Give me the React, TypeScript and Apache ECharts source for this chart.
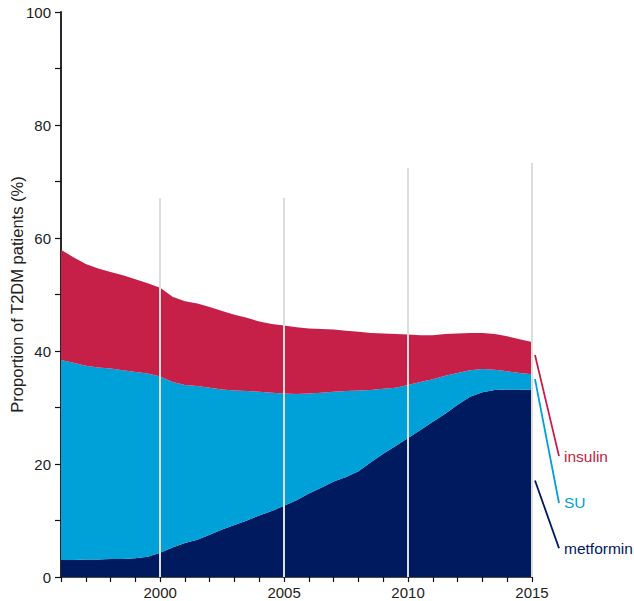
import React, { useEffect, useRef } from "react";
import * as echarts from "echarts";

// Half-yearly sampling points
const years = [
  1996.0, 1996.5, 1997.0, 1997.5, 1998.0, 1998.5, 1999.0, 1999.5, 2000.0, 2000.5,
  2001.0, 2001.5, 2002.0, 2002.5, 2003.0, 2003.5, 2004.0, 2004.5, 2005.0, 2005.5,
  2006.0, 2006.5, 2007.0, 2007.5, 2008.0, 2008.5, 2009.0, 2009.5, 2010.0, 2010.5,
  2011.0, 2011.5, 2012.0, 2012.5, 2013.0, 2013.5, 2014.0, 2014.5, 2015.0,
];

// Share of T2DM patients (%) per treatment, stacked bottom to top
const metformin = [
  3.0, 3.0, 3.1, 3.1, 3.2, 3.2, 3.3, 3.6, 4.3, 5.2,
  6.0, 6.6, 7.5, 8.4, 9.2, 10.0, 10.9, 11.7, 12.6, 13.6,
  14.8, 15.8, 16.9, 17.7, 18.7, 20.3, 21.8, 23.2, 24.6, 26.0,
  27.5, 28.9, 30.5, 31.9, 32.7, 33.1, 33.2, 33.2, 33.1,
];
const su = [
  35.4, 34.9, 34.3, 34.0, 33.7, 33.4, 33.0, 32.4, 31.2, 29.3,
  28.0, 27.2, 26.0, 24.8, 23.8, 22.9, 21.9, 20.9, 19.9, 18.8,
  17.7, 16.8, 15.9, 15.2, 14.3, 12.8, 11.5, 10.3, 9.4, 8.5,
  7.5, 6.7, 5.6, 4.7, 4.1, 3.6, 3.2, 2.9, 2.8,
];
const insulin = [
  19.5, 18.7, 18.0, 17.5, 17.1, 16.8, 16.4, 16.0, 15.7, 15.1,
  14.8, 14.6, 14.3, 13.9, 13.4, 13.0, 12.4, 12.2, 12.0, 11.8,
  11.5, 11.3, 11.0, 10.7, 10.4, 10.1, 9.8, 9.5, 8.9, 8.3,
  7.8, 7.4, 7.0, 6.6, 6.4, 6.3, 6.2, 6.0, 5.7,
];

// Vertical reference bars (year, height in %)
const refYears = [2000, 2005, 2010, 2015];
const refHeights = [67.1, 67.1, 72.4, 73.3];

// Right-hand labels: names, colours and the level (%) each label sits at
const seriesNames = ["metformin", "SU", "insulin"];
const seriesColors = ["#001a5f", "#00a0d8", "#c62048"];
const labelLevels = [5.1, 13.1, 21.4];

const FONT = "'Liberation Sans', Arial, sans-serif";

export default function App() {
  const ref = useRef<HTMLDivElement>(null);

  useEffect(() => {
    const chart = echarts.init(ref.current!, null, { renderer: "svg" });
    const values = [metformin, su, insulin];
    const categories = years.map((y) => String(y));

    chart.setOption({
      animation: false,
      textStyle: { fontFamily: FONT },
      grid: {
        left: 61,
        right: 102,
        top: 12,
        bottom: 24,
        containLabel: false,
        outerBoundsMode: "none",
      },
      xAxis: {
        type: "category",
        data: categories,
        boundaryGap: false,
        axisLine: { lineStyle: { color: "#111", width: 1.5 } },
        axisTick: {
          length: 5,
          interval: (i: number) => i % 2 === 0,
          lineStyle: { color: "#111", width: 1.2 },
        },
        axisLabel: {
          color: "#222",
          fontSize: 15,
          margin: 8,
          fontFamily: FONT,
          interval: (_i: number, v: string) => Number(v) % 5 === 0,
        },
        splitLine: { show: false },
      },
      yAxis: {
        type: "value",
        min: 0,
        max: 100,
        interval: 10,
        name: "Proportion of T2DM patients (%)",
        nameLocation: "middle",
        nameGap: 36,
        nameMoveOverlap: false,
        nameTextStyle: { color: "#222", fontSize: 16.5, fontFamily: FONT },
        axisLine: { show: true, lineStyle: { color: "#111", width: 1.8 } },
        axisTick: { show: true, length: 6, lineStyle: { color: "#111", width: 1.2 } },
        axisLabel: {
          color: "#222",
          fontSize: 15,
          margin: 10,
          fontFamily: FONT,
          formatter: (v: number) => (v % 20 === 0 ? String(v) : ""),
        },
        splitLine: { show: false },
      },
      series: seriesNames.map((name, i) => ({
        name,
        type: "line",
        stack: "total",
        symbol: "none",
        lineStyle: { width: 0 },
        areaStyle: { color: seriesColors[i], opacity: 1 },
        data: values[i],
        z: 2,
        ...(i === seriesNames.length - 1
          ? {
              markLine: {
                silent: true,
                symbol: ["none", "none"],
                label: { show: false },
                lineStyle: { color: "#deded8", width: 2, type: "solid" },
                data: refYears.map((yr, k) => [
                  { coord: [years.indexOf(yr), 0] },
                  { coord: [years.indexOf(yr), refHeights[k]] },
                ]),
              },
            }
          : {}),
      })),
    });

    // Leader lines from the middle of each band at the last point to its label
    const last = years.length - 1;
    let base = 0;
    const graphics: any[] = [];
    seriesNames.forEach((name, i) => {
      const v = values[i][last];
      const mid = base + v / 2;
      base += v;
      const start = chart.convertToPixel({ gridIndex: 0 }, [last, mid]) as number[];
      const end = chart.convertToPixel({ gridIndex: 0 }, [last, labelLevels[i]]) as number[];
      const x0 = start[0] + 3;
      const x1 = start[0] + 27;
      graphics.push({
        type: "line",
        shape: { x1: x0, y1: start[1] - 3, x2: x1, y2: end[1] },
        style: { stroke: seriesColors[i], lineWidth: 1.8 },
        silent: true,
      });
      graphics.push({
        type: "text",
        x: x1 + 5,
        y: end[1],
        style: {
          text: name,
          fill: seriesColors[i],
          fontSize: 15.5,
          fontFamily: FONT,
          verticalAlign: "middle",
          align: "left",
        },
        silent: true,
      });
    });
    chart.setOption({ graphic: graphics });

    return () => chart.dispose();
  }, []);

  return (
    <div
      ref={ref}
      style={{ position: "absolute", left: 0, top: 0, width: 634, height: 601 }}
    />
  );
}
